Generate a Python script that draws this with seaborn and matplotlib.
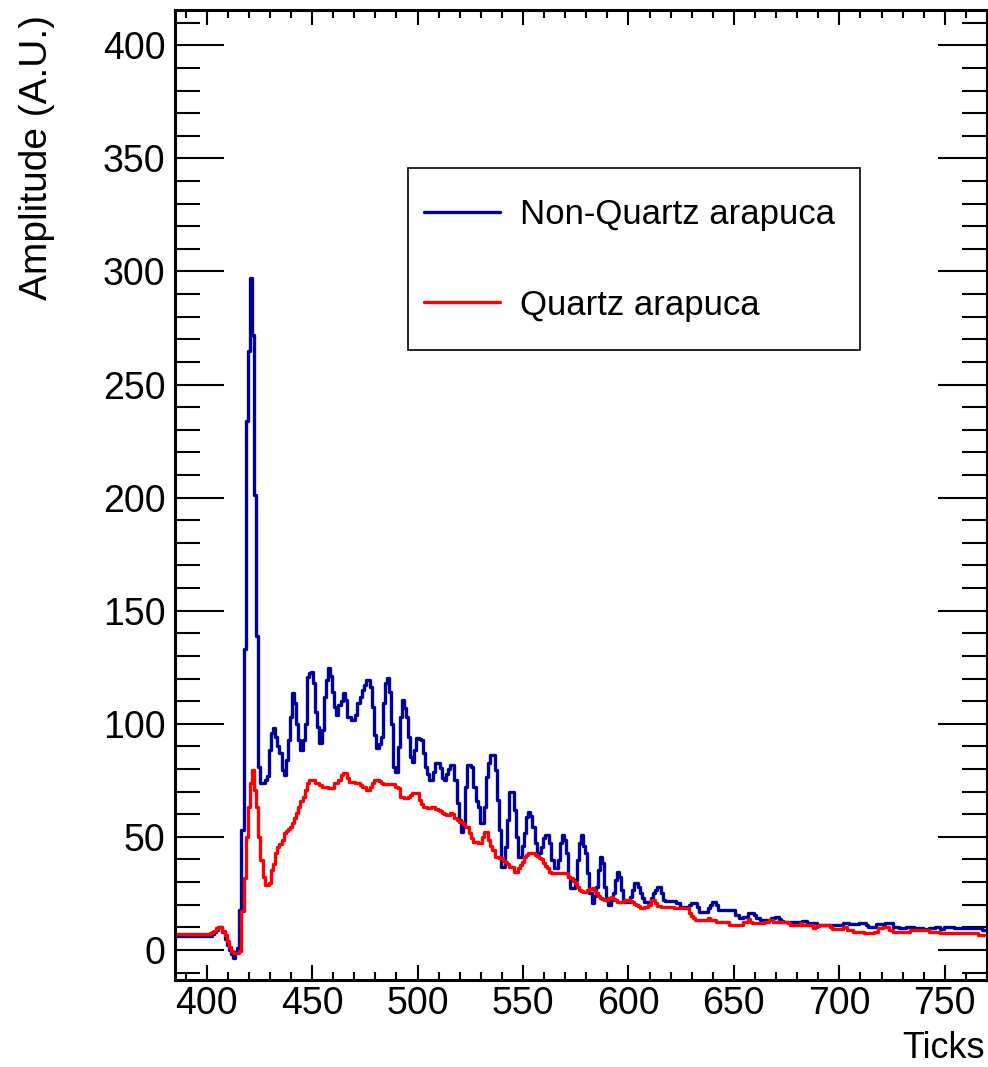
import numpy as np
import pandas as pd
import matplotlib
matplotlib.use("Agg")
import matplotlib.pyplot as plt
import seaborn as sns
from matplotlib.ticker import MultipleLocator
from matplotlib.patches import Rectangle
from matplotlib.lines import Line2D

# ---------------- data ----------------
ticks = list(range(385, 771))
labels = ["Non-Quartz arapuca", "Quartz arapuca"]
colors = ["#00009c", "#ff0000"]

non_quartz = [
    6.3, 6.3, 6.3, 6.3, 6.3, 6.3, 6.3, 6.3, 6.3, 6.3,          # 385
    6.3, 6.3, 6.3, 6.3, 6.3, 6.3, 6.3, 6.3, 7, 8,              # 395
    9, 10, 10, 8, 5, 2, 0, -2, -3.7, -1,                       # 405
    1, 17.7, 53, 133, 234, 265, 297, 272, 201, 139,            # 415
    81, 73.7, 73.7, 75, 77, 88.4, 95.8, 98, 94, 90,            # 425
    87, 79.6, 77.4, 84, 92.8, 103, 113.5, 109, 100, 92.8,      # 435
    88.4, 92.8, 100, 120.8, 122.3, 123, 118, 105, 98.7, 91.4,  # 445
    97.3, 112, 119.4, 124.5, 121, 114, 107.6, 103.9, 108.3, 110,  # 455
    113.5, 110.5, 103.1, 103.1, 101.7, 101.7, 103.9, 109, 112, 114.9,  # 465
    117, 119.4, 119.4, 116.4, 107.6, 95, 89.2, 91, 94.3, 109,  # 475
    117.9, 120.1, 114, 100, 81, 78.8, 89.9, 103.1, 110.5, 107,  # 485
    103.1, 94.3, 85.5, 83.2, 88.4, 93.6, 93.2, 92.8, 87, 81,   # 495
    78, 75.2, 75.2, 78.8, 82.5, 82.5, 80.3, 75.9, 75.2, 78,    # 505
    80, 81.8, 81.8, 75.2, 64.9, 57.5, 52.3, 55, 72.2, 81.8,    # 515
    81.8, 81, 72.2, 66, 63.4, 56, 56, 63.4, 76.6, 82.5,        # 525
    86.2, 86.2, 79.6, 66.3, 53, 36.8, 36.8, 45.7, 57.5, 70,    # 535
    70, 61.9, 50.1, 41.2, 41.2, 46, 51.6, 58.9, 61.1, 59,      # 545
    54.5, 47.2, 42.7, 42.7, 45.7, 49.4, 50.8, 50.8, 47.2, 39.8,  # 555
    36.1, 36.1, 39.8, 47.2, 50.8, 48.6, 42.7, 32.4, 27.3, 27.3,  # 565
    30.9, 39.8, 47.2, 50.8, 46, 42.7, 33.9, 25.1, 20.6, 24,    # 575
    28, 35.4, 41.2, 38.3, 28, 22.1, 19.9, 22, 25.1, 30.9,      # 585
    34.6, 32.4, 26.5, 22.1, 21.4, 21.4, 23.6, 26.5, 29.5, 29.5,  # 595
    28, 25.1, 23, 21.4, 21.4, 21.4, 23, 25.1, 26.5, 28,        # 605
    28, 25, 22.1, 21.8, 21.8, 21.8, 21.8, 21.8, 20.6, 20.6,    # 615
    19.1, 19.1, 19.1, 19.1, 19.9, 20.9, 20.9, 20.9, 19.1, 16.9,  # 625
    16.9, 16.9, 16.9, 18.5, 19.9, 21.4, 21.4, 20, 17.7, 17.7,  # 635
    17.7, 17.7, 17.7, 17.7, 17.7, 17.7, 15.5, 15.5, 14, 14,    # 645
    14.5, 14.5, 16.2, 16.2, 16.2, 15.5, 14, 14, 13.3, 13.3,    # 655
    13.3, 13.3, 13.3, 14, 14, 14.7, 14.7, 13.5, 13, 12.5,      # 665
    12.5, 12.5, 12.5, 12.5, 12.5, 12.5, 12.5, 12.5, 12.8, 12.8,  # 675
    11.8, 11.8, 11.8, 11.8, 11.8, 11, 11, 11, 11, 11,          # 685
    11, 11, 11, 11, 11, 11, 11, 12.1, 12.1, 12.1,              # 695
    11.3, 11.3, 11.3, 11.3, 11.3, 11.8, 11.8, 11.8, 11, 10.3,  # 705
    10.3, 10.3, 10.3, 11.3, 11.3, 11.3, 11.3, 11.8, 11.8, 11.8,  # 715
    11.8, 10.3, 10.3, 10.3, 9.6, 9.6, 9.6, 10.3, 10.3, 10.3,   # 725
    10.3, 9.6, 9.6, 9.6, 9.6, 9.3, 9.3, 9.3, 9.6, 9.6,         # 735
    9.6, 10.3, 10.3, 9.1, 9.1, 10.3, 10.3, 10.3, 10.3, 10.3,   # 745
    9.9, 9.9, 9.9, 9.9, 9.9, 9.9, 9.9, 9.9, 9.9, 9.9,          # 755
    9.9, 9.9, 9.9, 8.8, 8.8, 8.8,                              # 765
]

quartz = [
    7, 7, 7, 7, 7, 7, 7, 7, 7, 7,                              # 385
    7, 7, 7, 7, 7, 7, 7, 7.5, 8, 8.5,                          # 395
    9.5, 10.3, 10, 8.5, 6.5, 4, 1.5, -0.5, -1.5, -1.5,         # 405
    -1.5, -0.5, 17, 32, 50, 63, 73.7, 79.6, 70.7, 63,          # 415
    50, 39.8, 32.4, 28.7, 28.7, 29.5, 35.4, 38, 42.7, 45.7,    # 425
    47, 48.6, 51.9, 52.5, 53.4, 54.5, 56, 58.2, 60.4, 63.4,    # 435
    66, 67.8, 70.7, 73.7, 75.2, 75.2, 75.2, 74, 73.7, 73,      # 445
    72.2, 72.2, 72, 71.5, 71.5, 71.5, 73.7, 73.7, 75, 77.4,    # 455
    78.1, 78.1, 75.9, 74.4, 74.4, 74.4, 74, 74, 73, 72.2,      # 465
    72.2, 70.7, 70.7, 72.2, 74, 75.2, 75.2, 74.5, 73.7, 73.3,  # 475
    73.3, 73.3, 73.3, 73.3, 73.3, 72, 71.5, 67.8, 67.5, 67,    # 485
    67, 67.5, 68.5, 69.3, 69.3, 69.3, 66.3, 64.5, 63.4, 63,    # 495
    62.6, 62.6, 63.4, 63.4, 62.5, 61.9, 61.5, 60.4, 60, 59.7,  # 505
    59.7, 60.4, 60, 58.2, 57.5, 56.7, 56.7, 55.5, 54.5, 54.5,  # 515
    51.6, 49.5, 47.9, 47.5, 47.2, 47.2, 50.1, 52.3, 52.3, 48.6,  # 525
    46, 44.2, 41.3, 41.3, 40.5, 40.5, 39.5, 39, 38, 36.8,      # 535
    36.8, 34.6, 34.6, 36.1, 37.5, 39, 41.3, 42, 42.7, 42.7,    # 545
    42.7, 42, 41.5, 40.5, 40, 38.3, 37, 36.1, 34.5, 33.9,      # 555
    33.9, 33.9, 33.9, 33.9, 33.9, 33.9, 33.9, 32.4, 32, 30.5,  # 565
    29.5, 28, 26.5, 26, 25.8, 25.8, 26.5, 27, 27.3, 26,        # 575
    25.1, 24, 22.9, 22.5, 22.1, 22.1, 23, 23.6, 22.5, 22.1,    # 585
    21.4, 21.4, 21.4, 21.8, 22.1, 22.1, 21.8, 21.4, 20.5, 19.9,  # 595
    19.5, 18.4, 18.4, 19.1, 19.1, 20, 22, 22.1, 20.6, 19.4,    # 605
    19.4, 19.1, 19.1, 19.1, 19.1, 19.1, 19.1, 18.4, 18.4, 18.4,  # 615
    18.4, 18.4, 18.4, 18.4, 16.2, 15, 14, 13.3, 13.3, 13.3,    # 625
    13.3, 13.3, 13.3, 14, 13.3, 13.3, 13.3, 12.5, 12.5, 12.5,  # 635
    12.5, 12.5, 12.5, 11, 11, 11, 11, 11, 11, 11,              # 645
    12.5, 12.5, 13.6, 12.5, 11.8, 11.8, 11.8, 11.8, 11.8, 11.8,  # 655
    12.5, 12.5, 13.3, 13.3, 12.5, 12.5, 12.5, 12.5, 12.5, 12.5,  # 665
    12.5, 11.8, 11, 11, 11, 11, 11, 11.8, 11, 11,              # 675
    11, 11, 11, 9.6, 10.2, 10.6, 11, 11, 11, 11,               # 685
    11, 10.3, 9.1, 9.1, 9.1, 9.1, 9.1, 10.3, 10.3, 8.8,        # 695
    8.8, 8.8, 8.1, 8.1, 8.1, 8.1, 8.1, 7.4, 7.4, 7.4,          # 705
    7.4, 7.4, 8.1, 8.1, 9.6, 9.6, 10.3, 10.3, 10.3, 8.8,       # 715
    8.8, 8.1, 8.1, 8.1, 8.1, 8.1, 8.1, 8.1, 8.1, 9,            # 725
    9, 9, 9, 9, 9, 9, 9, 9, 8.1, 8.1,                          # 735
    8.1, 8.1, 8.1, 7.4, 7.4, 7.4, 7.4, 7.4, 7.4, 7.4,          # 745
    7.4, 7.4, 7.4, 7.4, 7.4, 7.4, 7.4, 7.4, 7.4, 7.4,          # 755
    7.4, 6.6, 6.6, 6.6, 6.6, 6.6,                              # 765
]

x_label = "Ticks"
y_label = "Amplitude (A.U.)"

# ---------------- figure ----------------
sns.set_style("ticks")
plt.rcParams["font.family"] = ["Liberation Sans", "DejaVu Sans"]
plt.rcParams.update({
    "text.color": "black",
    "axes.labelcolor": "black",
    "xtick.color": "black",
    "ytick.color": "black",
    "xtick.labelcolor": "black",
    "ytick.labelcolor": "black",
})

W, H = 988, 1067
fig = plt.figure(figsize=(W / 100, H / 100), dpi=100)
ax = fig.add_axes([175 / W, 87 / H, 812 / W, 970 / H])

df = pd.DataFrame({
    "Ticks": ticks + ticks,
    "Amplitude": non_quartz + quartz,
    "Detector": [labels[0]] * len(ticks) + [labels[1]] * len(ticks),
})

sns.lineplot(data=df, x="Ticks", y="Amplitude", hue="Detector",
             hue_order=labels, palette=colors, estimator=None,
             drawstyle="steps-mid", linewidth=2.4, legend=False, ax=ax)

ax.set_xlim(385, 770)
ax.set_ylim(-13.3, 415.6)

ax.xaxis.set_major_locator(MultipleLocator(50))
ax.xaxis.set_minor_locator(MultipleLocator(10))
ax.yaxis.set_major_locator(MultipleLocator(50))
ax.yaxis.set_minor_locator(MultipleLocator(10))

ax.tick_params(axis="both", which="both", direction="in", top=True, right=True,
               color="black", labelcolor="black", width=1.5)
ax.tick_params(axis="y", which="major", length=35, pad=7, labelsize=27)
ax.tick_params(axis="y", which="minor", length=18)
ax.tick_params(axis="x", which="major", length=11, pad=4.5, labelsize=27)
ax.tick_params(axis="x", which="minor", length=5.5)

for sp in ax.spines.values():
    sp.set_linewidth(2.2)
    sp.set_color("black")

ax.set_xlabel(x_label, fontsize=26, color="black")
ax.xaxis.label.set(ha="right", va="baseline")
ax.xaxis.set_label_coords(0.9975, -0.0804)

ax.set_ylabel(y_label, fontsize=28, color="black")
ax.yaxis.label.set(ha="right", va="baseline", rotation_mode="anchor")
ax.yaxis.set_label_coords(-0.1576, 0.995)

# legend frame and entries
ax.add_patch(Rectangle((0.287, 0.6495), 0.5567, 0.1876, transform=ax.transAxes,
                       facecolor="white", edgecolor="black", linewidth=1.2, zorder=5))
handles = [Line2D([], [], color=c, linewidth=2.4) for c in colors]
leg = ax.legend(handles, labels, loc="center left", bbox_to_anchor=(0.3067, 0.7423),
                frameon=False, fontsize=25, handlelength=2.19, handletextpad=0.58,
                labelspacing=1.65, borderpad=0, borderaxespad=0)
for t in leg.get_texts():
    t.set_color("black")
leg.set_zorder(6)

fig.savefig("out.png", dpi=100)
